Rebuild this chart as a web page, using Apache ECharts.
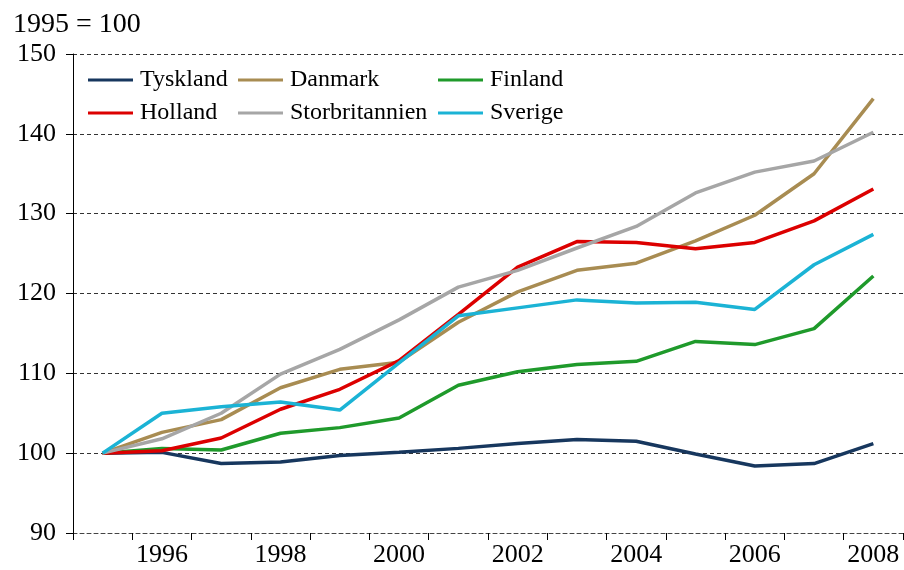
<!DOCTYPE html>
<html>
<head>
<meta charset="utf-8">
<script src="https://cdn.jsdelivr.net/npm/echarts@6/dist/echarts.min.js"></script>
<style>html,body{margin:0;padding:0;background:#fff}#c{width:904px;height:570px}</style>
</head>
<body>
<div id="c"></div>
<script>
const years = ['1995','1996','1997','1998','1999','2000','2001','2002','2003','2004','2005','2006','2007','2008'];
const tyskland = [100, 100.1, 98.7, 98.9, 99.7, 100.1, 100.6, 101.2, 101.7, 101.5, 99.9, 98.4, 98.7, 101.2];
const danmark = [100, 102.6, 104.2, 108.2, 110.5, 111.4, 116.4, 120.2, 122.9, 123.8, 126.6, 129.8, 135.0, 144.4];
const finland = [100, 100.6, 100.4, 102.5, 103.2, 104.4, 108.5, 110.2, 111.1, 111.5, 114.0, 113.6, 115.6, 122.2];
const holland = [100, 100.3, 101.9, 105.5, 108.0, 111.6, 117.4, 123.3, 126.5, 126.4, 125.6, 126.4, 129.1, 133.1];
const storbritannien = [100, 101.8, 105.0, 109.9, 113.0, 116.7, 120.8, 122.9, 125.7, 128.4, 132.6, 135.2, 136.6, 140.2];
const sverige = [100, 105.0, 105.8, 106.4, 105.4, 111.3, 117.2, 118.2, 119.2, 118.8, 118.9, 118.0, 123.6, 127.4];
const yTicks = [90, 100, 110, 120, 130, 140, 150];

const names = ['Tyskland','Danmark','Finland','Holland','Storbritannien','Sverige'];
const colors = ['#17375E','#A88C52','#1F9A2B','#DC0000','#A6A6A6','#1BB3D5'];
const values = [tyskland, danmark, finland, holland, storbritannien, sverige];

const font = 'Liberation Serif';
const chart = echarts.init(document.getElementById('c'));

function legend(data, left) {
  return {
    data: data, orient: 'vertical', left: left, top: 68, padding: 0,
    itemWidth: 45, itemHeight: 3, itemGap: 9, icon: 'rect',
    textStyle: { fontFamily: font, fontSize: 24, color: '#000', lineHeight: 24, padding: [0,0,0,2] }
  };
}

chart.setOption({
  animation: false,
  title: { text: '1995 = 100', left: 13, top: 11, padding: 0,
    textStyle: { fontFamily: font, fontSize: 28, fontWeight: 'normal', color: '#000' } },
  legend: [
    legend(['Tyskland','Holland'], 88),
    legend(['Danmark','Storbritannien'], 238),
    legend(['Finland','Sverige'], 438)
  ],
  grid: { left: 73, right: 1, top: 54, bottom: 37 },
  xAxis: {
    type: 'category', data: years, boundaryGap: true,
    axisLine: { show: true, lineStyle: { color: '#444', type: [4,3], width: 1 } },
    axisTick: { show: true, interval: 0, length: 7, lineStyle: { color: '#000' } },
    axisLabel: { interval: function(i){ return i % 2 === 1; }, margin: 9,
      fontFamily: font, fontSize: 26, color: '#000' }
  },
  yAxis: {
    type: 'value', min: yTicks[0], max: yTicks[yTicks.length-1], interval: 10,
    axisLine: { show: true, lineStyle: { color: '#000', width: 1 } },
    axisTick: { show: true, length: 7, lineStyle: { color: '#000' } },
    axisLabel: { margin: 17, fontFamily: font, fontSize: 26, color: '#000' },
    splitLine: { show: true, lineStyle: { color: '#333', type: [4,3], width: 1 } }
  },
  series: names.map((n, k) => ({
    name: n, type: 'line', data: values[k], symbol: 'none',
    lineStyle: { color: colors[k], width: 3.5 }, itemStyle: { color: colors[k] }
  }))
});
</script>
</body>
</html>
